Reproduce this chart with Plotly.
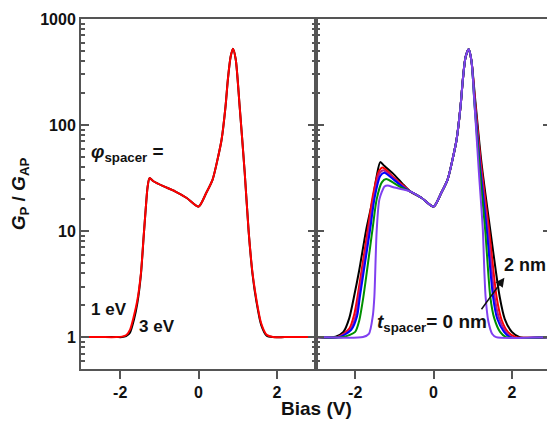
import plotly.graph_objects as go

# ---------------- data ----------------
# left panel: phi_spacer = 1 eV (red) and 3 eV (black)
left_v = [-3, -2.5, -2.1, -1.95, -1.85, -1.75, -1.65, -1.56, -1.47, -1.40, -1.35, -1.30, -1.25,
          -1.15, -0.9, -0.6, -0.3, 0, 0.2, 0.36, 0.5, 0.59, 0.69, 0.75, 0.82, 0.88, 0.95, 1.05,
          1.18, 1.28, 1.38, 1.48, 1.6, 1.74, 1.9, 2.2, 2.6, 3]
left_1ev = [1, 1, 1, 1.01, 1.04, 1.17, 1.58, 2.24, 4.0, 8.9, 15.8, 26, 31.6,
            29.5, 26.5, 23.7, 20.5, 17, 23, 30.6, 50, 73, 150, 270, 440, 525, 417, 151,
            35.5, 10, 4, 2.24, 1.35, 1.05, 1.0, 1, 1, 1]
left_3ev = [1, 1, 1, 1.0, 1.02, 1.10, 1.45, 2.1, 3.9, 8.9, 15.8, 26, 31.6,
            29.5, 26.5, 23.7, 20.5, 17, 23, 30.6, 50, 73, 150, 270, 440, 525, 417, 151,
            35.5, 10, 3.9, 2.15, 1.3, 1.03, 1.0, 1, 1, 1]

# right panel: common middle part of all t_spacer curves
mid_v = [-0.6, -0.3, 0, 0.2, 0.36, 0.5, 0.59, 0.69, 0.75, 0.82, 0.9, 0.97]
mid_g = [23.7, 20.5, 17, 23, 30.6, 50, 73, 150, 270, 440, 519, 400]

# wings of each curve (left wing, right wing)
t_labels = ["2 nm", "1.6 nm", "1.2 nm", "0.8 nm", "0.4 nm", "0 nm"]
t_colors = ["#000000", "#FF0000", "#B0208A", "#0000FF", "#009000", "#8040F0"]

wing_l_v = [
    [-3, -2.5, -2.3, -2.15, -2.03, -1.9, -1.72, -1.55, -1.45, -1.36, -1.25, -1.0, -0.8],
    [-3, -2.45, -2.15, -2.02, -1.94, -1.68, -1.55, -1.4, -1.30, -1.0, -0.8],
    [-3, -2.45, -2.12, -1.98, -1.91, -1.65, -1.52, -1.38, -1.28, -1.0, -0.8],
    [-3, -2.4, -2.1, -1.95, -1.88, -1.62, -1.5, -1.36, -1.26, -1.0, -0.8],
    [-3, -2.3, -2.0, -1.9, -1.79, -1.56, -1.45, -1.32, -1.21, -1.0, -0.8],
    [-3, -1.8, -1.65, -1.55, -1.51, -1.45, -1.38, -1.25, -1.17, -1.0, -0.8],
]
wing_l_g = [
    [1, 1.01, 1.12, 1.51, 2.4, 4.2, 10.2, 20, 33, 44.7, 41, 33.9, 28.2],
    [1, 1, 1.2, 1.66, 2.4, 10.2, 21.4, 36.3, 39.8, 31.6, 27.5],
    [1, 1, 1.18, 1.62, 2.4, 10.2, 21, 35, 37.5, 31.0, 26.8],
    [1, 1, 1.17, 1.58, 2.4, 10.2, 20.9, 33.1, 35.5, 30.2, 26.3],
    [1, 1, 1.12, 1.41, 2.4, 10.2, 20, 28.8, 30.9, 28.2, 25.5],
    [1, 1, 1.07, 1.58, 2.4, 10.2, 20, 26.3, 26.9, 25.7, 24.8],
]
wing_r_v = [
    [1.07, 1.22, 1.45, 1.69, 1.82, 2.0, 2.2, 3],
    [1.06, 1.21, 1.42, 1.61, 1.74, 1.9, 2.1, 3],
    [1.06, 1.2, 1.39, 1.56, 1.68, 1.85, 2.0, 3],
    [1.05, 1.19, 1.36, 1.52, 1.63, 1.8, 1.95, 3],
    [1.05, 1.18, 1.32, 1.45, 1.55, 1.7, 1.85, 3],
    [1.05, 1.16, 1.26, 1.30, 1.33, 1.40, 1.5, 1.6, 3],
]
wing_r_g = [
    [166, 45.7, 10.2, 2.4, 1.48, 1.12, 1.0, 1],
    [166, 43.7, 10.2, 2.4, 1.45, 1.12, 1.0, 1],
    [158, 41.7, 10.2, 2.4, 1.48, 1.12, 1.0, 1],
    [158, 40, 10.2, 2.4, 1.48, 1.12, 1.0, 1],
    [151, 38, 10.2, 2.4, 1.51, 1.12, 1.0, 1],
    [151, 35.5, 10.2, 4.0, 2.4, 1.41, 1.07, 1.0, 1],
]

y_ticks = [1, 10, 100, 1000]
y_minor = [0.5, 0.6, 0.7, 0.8, 0.9] + [m * d for d in (1, 10, 100) for m in range(2, 10)]
x_ticks = [-2, 0, 2]
x_ticktext = ["-2", "0", "2"]

# ---------------- figure ----------------
FONT = "Liberation Sans, Arial, sans-serif"
AX = "#555555"
fig = go.Figure()

fig.add_trace(go.Scatter(x=left_v, y=left_3ev, mode="lines", xaxis="x", yaxis="y",
                         line=dict(color="#000000", width=2, shape="spline", smoothing=0.7),
                         name="3 eV", showlegend=False))
fig.add_trace(go.Scatter(x=left_v, y=left_1ev, mode="lines", xaxis="x", yaxis="y",
                         line=dict(color="#FF0000", width=2, shape="spline", smoothing=0.7),
                         name="1 eV", showlegend=False))

for i in range(len(t_labels)):
    xs = wing_l_v[i] + mid_v + wing_r_v[i]
    ys = wing_l_g[i] + mid_g + wing_r_g[i]
    fig.add_trace(go.Scatter(x=xs, y=ys, mode="lines", xaxis="x2", yaxis="y2",
                             line=dict(color=t_colors[i], width=2, shape="spline", smoothing=0.7),
                             name=t_labels[i], showlegend=False))

common_x = dict(tickvals=x_ticks, ticktext=x_ticktext, range=[-3, 3], ticks="outside",
                ticklen=8, tickwidth=2, tickcolor=AX, showline=True, linewidth=2,
                linecolor=AX, mirror=True, showgrid=False, zeroline=False, automargin=False,
                tickfont=dict(family=FONT, size=16, color="#111", weight="bold"))
common_y = dict(type="log", range=[-0.301, 3], tickvals=y_ticks, ticks="inside", ticklen=8,
                tickwidth=2, tickcolor=AX, showline=True, linewidth=2, linecolor=AX,
                showgrid=False, zeroline=False, automargin=False, mirror="ticks",
                minor=dict(tickvals=y_minor, ticks="inside", ticklen=4, tickwidth=1.5,
                           tickcolor=AX, showgrid=False),
                tickfont=dict(family=FONT, size=16, color="#111", weight="bold"))

fig.update_layout(
    width=551, height=422,
    margin=dict(l=81, r=0, t=19, b=53, autoexpand=False),
    paper_bgcolor="white", plot_bgcolor="white",
    xaxis=dict(domain=[0, 0.5], anchor="y", **common_x),
    xaxis2=dict(domain=[0.5, 1], anchor="y2", **common_x),
    yaxis=dict(anchor="x",
               title=dict(text="<b><i>G</i><sub>P</sub> / <i>G</i><sub>AP</sub></b>",
                          font=dict(family=FONT, size=19, color="#111"), standoff=10),
               **common_y),
    yaxis2=dict(anchor="x2", showticklabels=False, **common_y),
)

ann_font = dict(family=FONT, size=17, color="#111")
fig.add_annotation(text="<b>Bias (V)</b>", xref="paper", yref="paper", x=0.5, y=-0.114,
                   showarrow=False, font=dict(family=FONT, size=19, color="#111"),
                   xanchor="center", yanchor="middle")
fig.add_annotation(text="<b><i>φ</i><sub>spacer</sub> =</b>", xref="x", yref="y",
                   x=-2.8, y=1.74, showarrow=False, xanchor="left", yanchor="middle",
                   font=dict(family=FONT, size=19, color="#111"))
fig.add_annotation(text="<b>1 eV</b>", xref="x", yref="y", x=-2.8, y=0.26,
                   showarrow=False, xanchor="left", yanchor="middle", font=ann_font)
fig.add_annotation(text="<b>3 eV</b>", xref="x", yref="y", x=-1.57, y=0.1,
                   showarrow=False, xanchor="left", yanchor="middle", font=ann_font)
fig.add_annotation(text="<b><i>t</i><sub>spacer</sub>= 0 nm</b>", xref="x2", yref="y2",
                   x=-1.5, y=0.13, showarrow=False, xanchor="left", yanchor="middle",
                   font=dict(family=FONT, size=19, color="#111"))
fig.add_annotation(text="<b>2 nm</b>", xref="x2", yref="y2", x=1.74, y=0.68,
                   showarrow=False, xanchor="left", yanchor="middle",
                   font=dict(family=FONT, size=18, color="#111"))
fig.add_annotation(text="", xref="x2", yref="y2", x=1.81, y=0.56, ax=-24, ay=33,
                   showarrow=True, arrowhead=2, arrowsize=1.2, arrowwidth=1.5,
                   arrowcolor="#111", axref="pixel", ayref="pixel")

fig.write_html("out.html", config={"displayModeBar": False},
               post_script="document.body.style.margin='0px';"
                           "document.body.style.overflow='hidden';"
                           "document.documentElement.style.overflow='hidden';")
